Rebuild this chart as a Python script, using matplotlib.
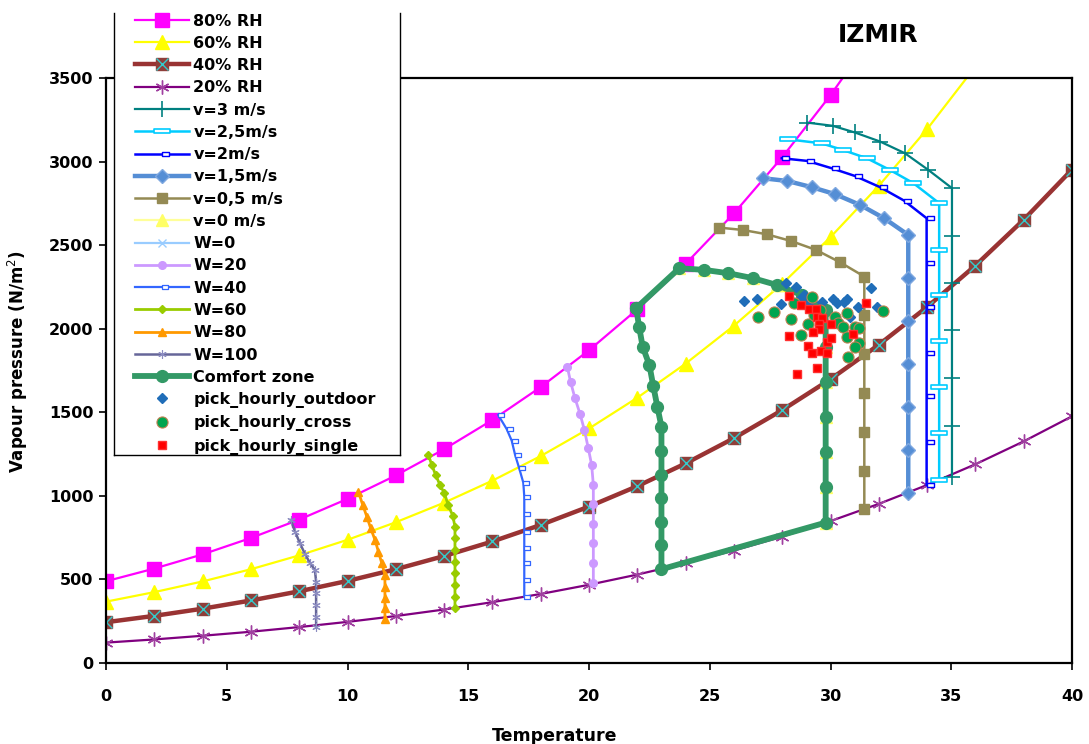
import matplotlib
matplotlib.use("Agg")
import matplotlib.pyplot as plt
from matplotlib.path import Path
from matplotlib.patches import Rectangle
from matplotlib.lines import Line2D
import numpy as np

# ---- relative humidity curves (T every 2 degC) ----
t_rh = [0, 2, 4, 6, 8, 10, 12, 14, 16, 18, 20, 22, 24, 26, 28, 30, 32, 34, 36, 38, 40]
rh80 = [489, 565, 650, 748, 858, 982, 1122, 1279, 1454, 1651, 1871, 2116, 2388, 2690, 3026, 3397, 3807]
rh60 = [367, 424, 488, 561, 644, 737, 842, 959, 1091, 1238, 1403, 1587, 1791, 2018, 2269, 2548,
        2855, 3194, 3568]
rh40 = [244, 282, 325, 374, 429, 491, 561, 640, 727, 826, 936, 1058, 1194, 1345, 1513, 1698,
        1904, 2130, 2378, 2652, 2952]
rh20 = [122, 141, 163, 187, 215, 246, 281, 320, 364, 413, 468, 529, 597, 673, 756, 849,
        952, 1065, 1189, 1326, 1476]

# ---- air speed limits ----
v3_t = [29.04, 30.09, 31.01, 32.05, 33.08, 34.05, 35.03, 35.03, 35.03, 35.03, 35.03, 35.03, 35.03]
v3_p = [3233, 3214, 3174, 3120, 3050, 2950, 2841, 2555, 2272, 1990, 1704, 1420, 1115]
v25_t = [28.25, 29.63, 30.5, 31.5, 32.46, 33.43, 34.5, 34.5, 34.5, 34.5, 34.5, 34.5, 34.5]
v25_p = [3133, 3109, 3070, 3020, 2950, 2871, 2751, 2472, 2202, 1929, 1654, 1375, 1095]
v2_t = [27.98, 29.04, 30.05, 31.01, 32.05, 33.04, 33.98, 33.98, 33.98, 33.98, 33.98, 33.98, 33.98]
v2_p = [3020, 3004, 2960, 2914, 2847, 2767, 2661, 2396, 2129, 1857, 1598, 1324, 1065]
v15_t = [27.22, 28.21, 29.22, 30.19, 31.22, 32.22, 33.22, 33.22, 33.22, 33.22, 33.22, 33.22, 33.22]
v15_p = [2900, 2884, 2847, 2805, 2741, 2661, 2561, 2302, 2047, 1788, 1534, 1275, 1016]
v05_t = [25.38, 26.36, 27.36, 28.36, 29.39, 30.39, 31.4, 31.4, 31.4, 31.4, 31.4, 31.4, 31.4]
v05_p = [2605, 2591, 2565, 2525, 2472, 2398, 2312, 2083, 1847, 1614, 1384, 1151, 920]
v0_t = [23.74, 24.76, 25.77, 26.8, 27.77, 28.81, 29.8, 29.8, 29.8, 29.8, 29.8, 29.8, 29.8]
v0_p = [2362, 2352, 2332, 2302, 2262, 2202, 2113, 1893, 1683, 1474, 1261, 1051, 840]

# ---- wetness lines ----
w0_t = [23.0, 23.0, 23.0, 23.0, 23.0, 23.0, 23.0, 22.83, 22.66, 22.5, 22.22, 22.08, 21.95]
w0_p = [561, 706, 842, 989, 1125, 1270, 1414, 1534, 1658, 1783, 1893, 2009, 2123]
w20_t = [19.10, 19.24, 19.42, 19.63, 19.81, 19.97, 20.11, 20.18, 20.18, 20.18, 20.18, 20.18, 20.18]
w20_p = [1773, 1680, 1584, 1490, 1394, 1285, 1185, 1065, 952, 832, 716, 600, 477]
w40_t = [16.24, 16.59, 16.80, 16.94, 17.11, 17.28, 17.32, 17.32, 17.32, 17.32, 17.32, 17.32, 17.32]
w40_p = [1484, 1400, 1330, 1245, 1165, 1079, 995, 892, 786, 686, 597, 497, 397]
w60_t = [13.35, 13.49, 13.65, 13.83, 14.01, 14.17, 14.36, 14.45, 14.45, 14.45, 14.45, 14.45,
         14.45, 14.45, 14.45]
w60_p = [1245, 1185, 1125, 1065, 1016, 946, 880, 816, 746, 676, 606, 537, 467, 397, 327]
w80_t = [10.45, 10.63, 10.80, 10.96, 11.14, 11.28, 11.42, 11.55, 11.55, 11.55, 11.55, 11.55]
w80_p = [1025, 946, 876, 806, 736, 666, 597, 527, 457, 387, 327, 262]
w100_t = [7.65, 7.83, 8.03, 8.24, 8.45, 8.65, 8.70, 8.70, 8.70, 8.70, 8.70]
w100_p = [856, 786, 716, 652, 597, 557, 487, 417, 347, 277, 215]

# ---- comfort zone corners (closing along 80% RH and 20% RH) ----
cz_left_top = (21.95, 2123)
cz_bottom_left = (23.0, 561)

# ---- hourly picks ----
out_t = [28.15, 28.56, 26.42, 26.94, 27.95, 28.70, 29.08, 29.66, 30.09, 30.26, 30.56, 30.81,
         31.13, 31.68, 31.91, 29.23, 30.68, 28.90]
out_p = [2275, 2252, 2166, 2178, 2147, 2172, 2153, 2159, 2178, 2153, 2162, 2072,
         2132, 2242, 2132, 2190, 2178, 2200]
cross_t = [26.98, 27.67, 28.36, 28.49, 28.78, 29.08, 29.22, 29.33, 29.57, 30.19, 30.29, 30.53,
           30.67, 30.67, 30.74, 31.01, 31.19, 31.19, 31.01, 32.19]
cross_p = [2072, 2102, 2057, 2153, 1963, 2029, 2188, 2083, 2113, 2072, 2037, 2013,
           2093, 1949, 1829, 2010, 2003, 1913, 1889, 2107]
single_t = [28.28, 28.77, 29.12, 29.40, 29.43, 29.63, 29.52, 29.52, 29.26, 30.02, 28.28, 29.08,
            29.22, 29.61, 29.84, 30.02, 29.84, 29.43, 28.63, 31.47, 30.93]
single_p = [2198, 2142, 2118, 2118, 2072, 2063, 2027, 1997, 1979, 2027, 1959, 1897,
            1853, 1867, 1923, 1943, 1853, 1767, 1728, 2153, 1966]

labels = ["80% RH", "60% RH", "40% RH", "20% RH", "v=3 m/s", "v=2,5m/s", "v=2m/s",
          "v=1,5m/s", "v=0,5 m/s", "v=0 m/s", "W=0", "W=20", "W=40", "W=60", "W=80",
          "W=100", "Comfort zone", "pick_hourly_outdoor", "pick_hourly_cross",
          "pick_hourly_single"]

plt.rcParams["font.family"] = "DejaVu Sans"

W_PX, H_PX = 1089, 744
fig = plt.figure(figsize=(W_PX / 100, H_PX / 100), dpi=100)
ax = fig.add_axes([106 / W_PX, 1 - 663 / H_PX, (1072 - 106) / W_PX, (663 - 78) / H_PX])

# dash markers: a centred bar and a bar hanging to the right of the point
bar_c = Path([(-1, -0.28), (1, -0.28), (1, 0.28), (-1, 0.28), (-1, -0.28)],
             [Path.MOVETO, Path.LINETO, Path.LINETO, Path.LINETO, Path.CLOSEPOLY])
bar_r = Path([(0, -0.3), (1, -0.3), (1, 0.3), (0, 0.3), (0, -0.3)],
             [Path.MOVETO, Path.LINETO, Path.LINETO, Path.LINETO, Path.CLOSEPOLY])
star = (6, 2, 0)

handles = []

h80, = ax.plot(t_rh[:len(rh80)], rh80, color="#FF00FF", lw=1.6, marker="s", ms=9.5,
               mfc="#FF00FF", mec="#FF00FF", zorder=2)
h60, = ax.plot(t_rh[:len(rh60)], rh60, color="#FFFF00", lw=1.6, marker="^", ms=10,
               mfc="#FFFF00", mec="#FFFF00", zorder=2.01)
h40s, = ax.plot(t_rh, rh40, color="#993333", lw=3.2, marker="s", ms=9,
                mfc="#8E3F3A", mec="#8E3F3A", zorder=2.02)
h40x, = ax.plot(t_rh, rh40, ls="none", marker="x", ms=9, mec="#33CCCC", mew=1.0, zorder=2.03)
h20, = ax.plot(t_rh, rh20, color="#800080", lw=1.6, marker=star, ms=10, mec="#A040A0",
               mew=1.0, zorder=2.04)
handles += [h80, h60, (h40s, h40x), h20]

hv3, = ax.plot(v3_t, v3_p, color="#008080", lw=1.6, marker="+", ms=11, mew=1.2, zorder=2.1)
hv25, = ax.plot(v25_t, v25_p, color="#00CCFF", lw=1.8, marker=bar_c, ms=11, mfc="white",
                mec="#00CCFF", mew=1.2, zorder=2.11)
hv2, = ax.plot(v2_t, v2_p, color="#0000FF", lw=1.8, marker=bar_r, ms=10, mfc="white",
               mec="#0000FF", mew=1.0, zorder=2.12)
hv15, = ax.plot(v15_t, v15_p, color="#558ED5", lw=3.2, marker="D", ms=7, mfc="#558ED5",
                mec="#7FA8E0", zorder=2.13)
hv05, = ax.plot(v05_t, v05_p, color="#948A54", lw=1.8, marker="s", ms=7.5, mfc="#948A54",
                mec="#948A54", zorder=2.14)
hv0, = ax.plot(v0_t, v0_p, color="#FFFF99", lw=1.6, marker="^", ms=8, mfc="#FFFF66",
               mec="#FFFF66", zorder=2.15)
handles += [hv3, hv25, hv2, hv15, hv05, hv0]

hw0, = ax.plot(w0_t, w0_p, color="#99CCFF", lw=1.6, marker="x", ms=6, mew=1.0, zorder=2.2)
hw20, = ax.plot(w20_t, w20_p, color="#CC99FF", lw=2.0, marker="o", ms=5.5, mfc="#CC99FF",
                mec="#CC99FF", zorder=2.21)
hw40, = ax.plot(w40_t, w40_p, color="#3366FF", lw=1.6, marker=bar_r, ms=8, mfc="white",
                mec="#3366FF", mew=0.9, zorder=2.22)
hw60, = ax.plot(w60_t, w60_p, color="#99CC00", lw=2.0, marker="D", ms=4, mfc="#99CC00",
                mec="#99CC00", zorder=2.23)
hw80, = ax.plot(w80_t, w80_p, color="#FF9900", lw=2.0, marker="^", ms=5.5, mfc="#FF9900",
                mec="#FF9900", zorder=2.24)
hw100, = ax.plot(w100_t, w100_p, color="#666699", lw=1.8, marker=star, ms=6, mec="#8C8CC0",
                 mew=0.8, zorder=2.25)
handles += [hw0, hw20, hw40, hw60, hw80, hw100]

# comfort zone outline: 80% RH corner -> v=0 limit -> 20% RH -> W=0 limit back up
cz_t = [cz_left_top[0]] + v0_t + [cz_bottom_left[0]] + w0_t[1:]
cz_p = [cz_left_top[1]] + v0_p + [cz_bottom_left[1]] + w0_p[1:]
hcz, = ax.plot(cz_t, cz_p, color="#339966", lw=4.2, marker="o", ms=8.5, mfc="#339966",
               mec="#339966", solid_joinstyle="round", zorder=2.3)
handles.append(hcz)

hout, = ax.plot(out_t, out_p, ls="none", marker="D", ms=5.5, mfc="#1F6DB8", mec="#1F6DB8",
                zorder=2.4)
hcr, = ax.plot(cross_t, cross_p, ls="none", marker="o", ms=8, mfc="#00A550", mec="#C08050",
               mew=0.8, zorder=2.41)
hsg, = ax.plot(single_t, single_p, ls="none", marker="s", ms=5.5, mfc="#FF0000",
               mec="#FF3030", zorder=2.42)
handles += [hout, hcr, hsg]

ax.set_xlim(0, 40)
ax.set_ylim(0, 3500)
ax.set_xticks(np.arange(0, 41, 5))
ax.set_yticks(np.arange(0, 3501, 500))
for s in ax.spines.values():
    s.set_linewidth(1.6)
    s.set_color("black")
ax.tick_params(axis="both", direction="out", length=5, width=1.2, labelsize=11.5)
ax.tick_params(axis="x", pad=14)
ax.tick_params(axis="y", pad=4)
for lab in ax.get_xticklabels() + ax.get_yticklabels():
    lab.set_fontweight("bold")

ax.set_xlabel("Temperature", fontsize=12.5, fontweight="bold")
ax.xaxis.set_label_coords((555 - 106) / 966, (663 - 727) / 585)
ax.set_ylabel("Vapour pressure (N/m$^2$)", fontsize=12, fontweight="bold")
ax.yaxis.set_label_coords((30 - 106) / 966, (663 - 362) / 585)

fig.text(878 / W_PX, 1 - 35 / H_PX, "IZMIR", fontsize=18, fontweight="bold",
         ha="center", va="center")

# legend box: white panel with left, right and bottom rules
box_l, box_r, box_t, box_b = 114, 400, 13, 455
tf = fig.transFigure
ax.add_patch(Rectangle((box_l / W_PX, 1 - box_b / H_PX), (box_r - box_l) / W_PX,
                       (box_b - box_t) / H_PX, transform=tf, facecolor="white",
                       edgecolor="none", clip_on=False, zorder=9))
for xs, ys in [((box_l, box_l), (box_t, box_b)), ((box_r, box_r), (box_t, box_b)),
               ((box_l, box_r), (box_b, box_b))]:
    ax.add_line(Line2D([x / W_PX for x in xs], [1 - y / H_PX for y in ys], transform=tf,
                       color="black", lw=1.0, clip_on=False, zorder=9.5))

leg = ax.legend(handles, labels, loc="upper left",
                bbox_to_anchor=(135 / W_PX, 1 - 13.5 / H_PX), bbox_transform=tf,
                prop={"weight": "bold", "size": 11.5}, numpoints=1, handlelength=3.4,
                handletextpad=0.25, labelspacing=0.455, borderpad=0, borderaxespad=0,
                frameon=False)
leg.set_zorder(10)

fig.savefig("out.png", dpi=100)
